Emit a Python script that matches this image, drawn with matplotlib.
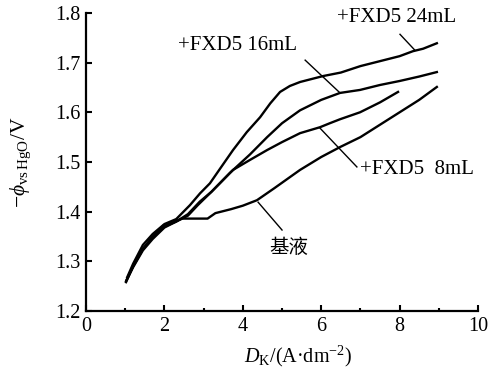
import matplotlib
matplotlib.use("Agg")
import matplotlib.pyplot as plt
from matplotlib.ticker import MultipleLocator

plt.rcParams['font.family'] = ['Liberation Serif', 'Noto Sans CJK SC', 'DejaVu Sans']
plt.rcParams['mathtext.fontset'] = 'custom'
plt.rcParams['mathtext.rm'] = 'Liberation Serif'
plt.rcParams['mathtext.it'] = 'Liberation Serif:italic'

# 基液 (base solution)
x_base = [1.02, 1.2, 1.45, 1.7, 1.97, 2.2, 2.45, 2.8, 3.1, 3.3, 3.7, 4.0, 4.36,
          4.8, 5.46, 6.0, 6.48, 7.0, 7.5, 8.0, 8.5, 8.95]
y_base = [1.258, 1.29, 1.325, 1.35, 1.372, 1.378, 1.386, 1.386, 1.386, 1.397,
          1.405, 1.412, 1.423, 1.447, 1.484, 1.51, 1.530, 1.550, 1.575, 1.60,
          1.625, 1.651]

# +FXD5 8mL
x_8 = [1.02, 1.2, 1.45, 1.7, 2.0, 2.3, 2.6, 2.85, 3.2, 3.75, 4.18, 4.62, 5.0,
       5.46, 5.97, 6.22, 6.48, 6.99, 7.5, 7.96]
y_8 = [1.26, 1.288, 1.322, 1.345, 1.368, 1.38, 1.392, 1.413, 1.44, 1.484, 1.504,
       1.524, 1.54, 1.558, 1.570, 1.578, 1.586, 1.600, 1.62, 1.641]

# +FXD5 16mL
x_16 = [1.03, 1.2, 1.45, 1.7, 2.0, 2.3, 2.6, 2.9, 3.2, 3.67, 4.18, 4.62, 5.0,
        5.46, 6.0, 6.48, 6.99, 7.5, 8.0, 8.5, 8.95]
y_16 = [1.262, 1.29, 1.325, 1.348, 1.37, 1.38, 1.395, 1.42, 1.44, 1.478, 1.515,
        1.550, 1.578, 1.604, 1.625, 1.639, 1.645, 1.655, 1.663, 1.672, 1.681]

# +FXD5 24mL
x_24 = [1.05, 1.2, 1.45, 1.7, 2.0, 2.3, 2.65, 2.91, 3.16, 3.45, 3.75, 4.1, 4.44,
        4.7, 4.95, 5.2, 5.46, 6.05, 6.5, 7.0, 7.5, 8.0, 8.34, 8.6, 8.95]
y_24 = [1.268, 1.295, 1.333, 1.355, 1.375, 1.385, 1.413, 1.437, 1.457, 1.49,
        1.524, 1.56, 1.590, 1.618, 1.641, 1.653, 1.661, 1.673, 1.68, 1.693,
        1.703, 1.713, 1.723, 1.728, 1.739]

fig = plt.figure(figsize=(4.89, 3.70), dpi=100)
ax = fig.add_axes([0.176, 0.1595, 0.8015, 0.8055])

for xs, ys in [(x_base, y_base), (x_8, y_8), (x_16, y_16), (x_24, y_24)]:
    ax.plot(xs, ys, color="black", lw=1.7)

# labels with leader lines
fs = 15
ax.text(6.40, 1.79, "+FXD5 24mL", fontsize=fs, va="center", ha="left")
ax.plot([8.01, 8.39], [1.757, 1.725], color="black", lw=1.0)
ax.text(2.35, 1.735, "+FXD5 16mL", fontsize=fs, va="center", ha="left")
ax.plot([5.59, 6.48], [1.705, 1.639], color="black", lw=1.0)
ax.text(6.99, 1.484, "+FXD5  8mL", fontsize=fs, va="center", ha="left")
ax.plot([5.97, 6.91], [1.568, 1.49], color="black", lw=1.0)
ax.text(5.18, 1.327, "基液", fontsize=fs - 1, va="center", ha="center")
ax.plot([4.39, 5.0], [1.419, 1.363], color="black", lw=1.0)

ax.set_xlim(0, 10)
ax.set_ylim(1.2, 1.8)
ax.xaxis.set_major_locator(MultipleLocator(2))
ax.xaxis.set_minor_locator(MultipleLocator(1))
ax.set_yticks([1.2, 1.3, 1.4, 1.5, 1.6, 1.7, 1.8])
ax.set_yticklabels(["1.2", "1.3", "1.4", "1.5", "1.6", "1.7", "1.8"])

ax.spines["top"].set_visible(False)
ax.spines["right"].set_visible(False)
ax.spines["left"].set_linewidth(1.6)
ax.spines["bottom"].set_linewidth(1.6)
ax.tick_params(which="major", direction="in", length=4, width=1.5, labelsize=14.5, pad=4)
ax.tick_params(which="minor", direction="in", length=2, width=1.5)

ax.set_xlabel(r"$D_{\rm K}$/(A·dm$^{-2}$)", fontsize=14.5)
ax.set_ylabel(r"$-\phi_{\rm vs\,HgO}$/V", fontsize=15.5)
ax.xaxis.set_label_coords(0.54, -0.11)
ax.yaxis.set_label_coords(-0.135, 0.5)

fig.savefig("out.png", dpi=100)
